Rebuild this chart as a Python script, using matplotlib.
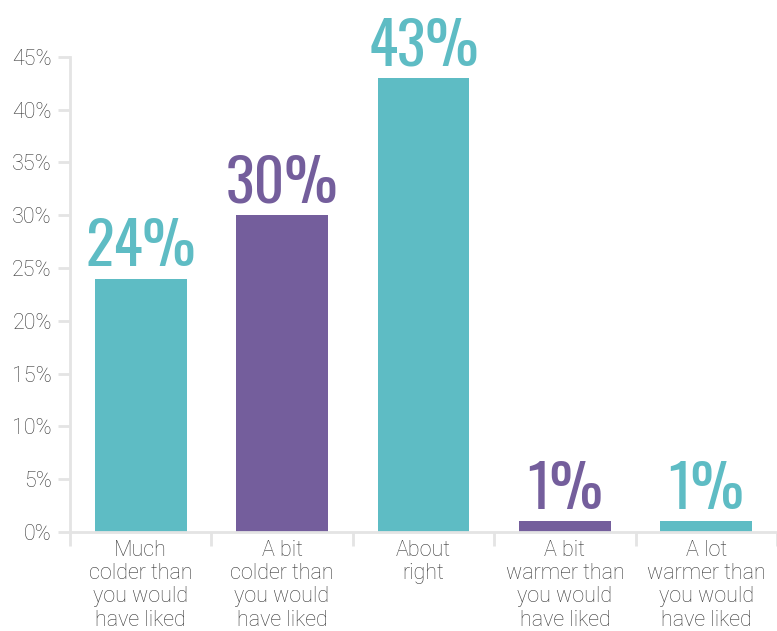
import numpy as np
import matplotlib.pyplot as plt
from matplotlib.ticker import FixedLocator, NullFormatter

categories = ['Much\ncolder than\nyou would\nhave liked',
              'A bit\ncolder than\nyou would\nhave liked',
              'About\nright',
              'A bit\nwarmer than\nyou would\nhave liked',
              'A lot\nwarmer than\nyou would\nhave liked']
values = [24, 30, 43, 1, 1]
value_labels = ['24%', '30%', '43%', '1%', '1%']
yticks = [0, 5, 10, 15, 20, 25, 30, 35, 40, 45]

teal = '#5ebcc4'
purple = '#745e9c'
colors = [teal, purple, teal, purple, teal]
grid_col = '#e4e4e4'
text_col = '#3a3a3a'
label_fonts = ['Roboto', 'DejaVu Sans']
big_fonts = ['Oswald', 'Bebas Neue', 'Roboto Condensed', 'DejaVu Sans']

fig = plt.figure(figsize=(7.77, 6.31), dpi=100)
ax = fig.add_axes([0.090, 0.157, 0.91, 0.7528])

x = np.arange(len(values))
ax.bar(x, values, width=0.65, color=colors, zorder=3)

for xi, v, lab, c in zip(x, values, value_labels, colors):
    ax.annotate(lab, (xi, v), xytext=(0, 1), textcoords='offset points',
                ha='center', va='bottom', color=c, fontsize=43,
                family=big_fonts, weight='light', annotation_clip=False)

ax.set_xlim(-0.5, 4.5)
ax.set_ylim(0, 45)

ax.set_yticks(yticks)
ax.set_yticklabels(['%d%%' % t for t in yticks])

ax.xaxis.set_major_locator(FixedLocator(np.arange(-0.5, 5.0, 1.0)))
ax.xaxis.set_major_formatter(NullFormatter())
ax.xaxis.set_minor_locator(FixedLocator(x))
ax.set_xticklabels(categories, minor=True)

ax.tick_params(axis='y', length=9, width=2, color=grid_col, pad=4,
               labelsize=15.5, labelcolor=text_col)
ax.tick_params(axis='x', which='major', length=10, width=2, color=grid_col)
ax.tick_params(axis='x', which='minor', length=0, pad=6,
               labelsize=15.5, labelcolor=text_col)
for lab in ax.get_xticklabels(minor=True):
    lab.set_linespacing(1.13)
    lab.set_family(label_fonts)
    lab.set_weight('light')
for lab in ax.get_yticklabels():
    lab.set_family(label_fonts)
    lab.set_weight('light')

for s in ['top', 'right']:
    ax.spines[s].set_visible(False)
for s in ['left', 'bottom']:
    ax.spines[s].set_color(grid_col)
    ax.spines[s].set_linewidth(2)
ax.spines['bottom'].set_zorder(4)

fig.savefig('out.png', dpi=100)
